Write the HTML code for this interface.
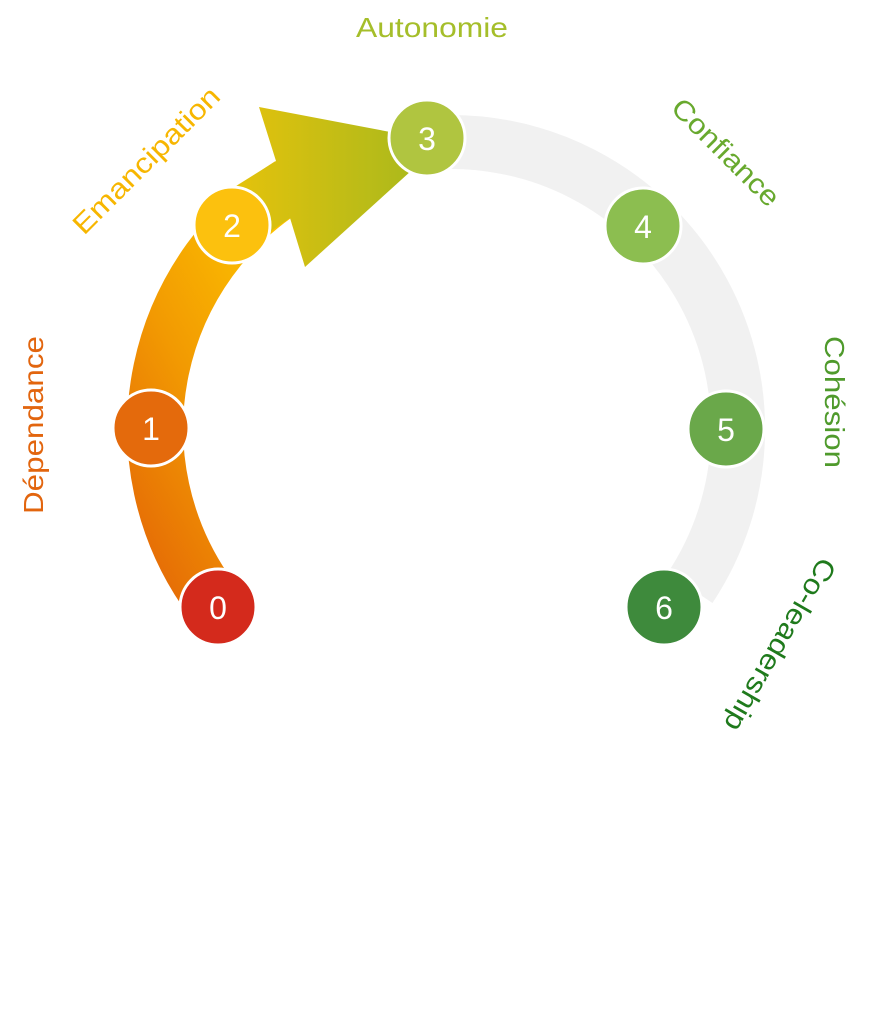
<!DOCTYPE html>
<html><head><meta charset="utf-8"><style>html,body{margin:0;padding:0;background:#fff}svg{display:block}</style></head>
<body>
<svg width="880" height="1024" viewBox="0 0 880 1024" xmlns="http://www.w3.org/2000/svg">
<defs>
<linearGradient id="og" x1="0" y1="1" x2="0.6" y2="0">
<stop offset="0" stop-color="#e56a06"/><stop offset="0.5" stop-color="#f29a02"/><stop offset="1" stop-color="#fcc000"/></linearGradient>
<linearGradient id="ag" x1="0" y1="0" x2="1" y2="0">
<stop offset="0" stop-color="#e4c20c"/><stop offset="1" stop-color="#a2b81e"/></linearGradient>
</defs>
<path d="M 427 143 A 287 287 0 0 1 690 588" fill="none" stroke="#f1f1f1" stroke-width="54"/>
<path d="M 205 590 A 287 287 0 0 1 290 185" fill="none" stroke="url(#og)" stroke-width="56"/>
<polygon points="236,186 276,161 259,107 443,142 305,267 290,218 258,240" fill="url(#ag)"/>
<g stroke="#fff" stroke-width="3">
<circle cx="218" cy="607" r="38" fill="#d42a1c"/>
<circle cx="151" cy="428" r="38" fill="#e46a0c"/>
<circle cx="232" cy="225" r="38" fill="#fcc10e"/>
<circle cx="427" cy="138" r="38" fill="#b0c540"/>
<circle cx="643" cy="226" r="38" fill="#8cbe50"/>
<circle cx="726" cy="429" r="38" fill="#6aa84a"/>
<circle cx="664" cy="607" r="38" fill="#3e8a3c"/>
</g>
<g font-family="Liberation Sans, sans-serif" font-size="32" fill="#fff" text-anchor="middle">
<text x="218" y="619">0</text><text x="151" y="440">1</text><text x="232" y="237">2</text>
<text x="427" y="150">3</text><text x="643" y="238">4</text><text x="726" y="441">5</text><text x="664" y="619">6</text>
</g>
<g font-family="Liberation Sans, sans-serif" font-size="28" text-anchor="middle">
<text transform="translate(43,425) rotate(-90)" fill="#e2650e" textLength="178" lengthAdjust="spacingAndGlyphs">Dépendance</text>
<text transform="translate(153,167) rotate(-45)" fill="#f7b600" textLength="195" lengthAdjust="spacingAndGlyphs">Emancipation</text>
<text x="432" y="37" fill="#a5be2a" textLength="152" lengthAdjust="spacingAndGlyphs">Autonomie</text>
<text transform="translate(719,159) rotate(45)" fill="#68a92e" textLength="140" lengthAdjust="spacingAndGlyphs">Confiance</text>
<text transform="translate(825,402) rotate(90)" fill="#4f9a2c" textLength="132" lengthAdjust="spacingAndGlyphs">Cohésion</text>
<text transform="translate(772,640) rotate(120)" fill="#1f7a1c" textLength="195" lengthAdjust="spacingAndGlyphs">Co-leadership</text>
</g>
</svg>
</body></html>
